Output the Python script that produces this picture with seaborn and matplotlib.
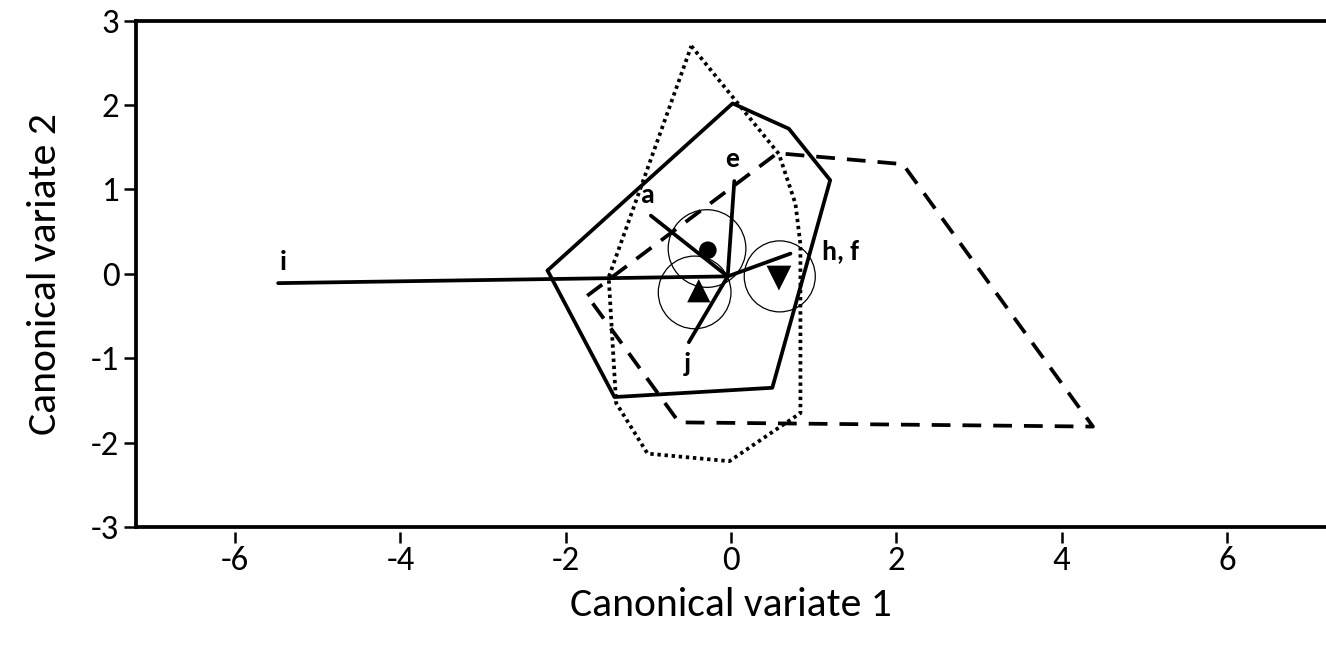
import numpy as np
import pandas as pd
import matplotlib
matplotlib.use("Agg")
import matplotlib.pyplot as plt
from matplotlib.patches import Ellipse
import seaborn as sns

# ---- data ----
solid_x = [-2.22, 0.02, 0.70, 1.20, 0.50, -1.41, -2.22]
solid_y = [0.04, 2.02, 1.72, 1.11, -1.35, -1.46, 0.04]

dotted_x = [-0.48, 0.58, 0.78, 0.84, 0.84, -0.02, -1.01, -1.39, -1.48, -0.48]
dotted_y = [2.70, 1.42, 0.83, 0.35, -1.65, -2.22, -2.13, -1.53, -0.04, 2.70]

dashed_x = [-1.74, 0.56, 2.08, 4.38, -0.63, -1.74]
dashed_y = [-0.26, 1.43, 1.30, -1.81, -1.76, -0.26]

origin = (-0.04, -0.03)
vec_names = ["i", "a", "e", "h, f", "j"]
vec_x = [-5.48, -0.97, 0.04, 0.72, -0.51]
vec_y = [-0.11, 0.69, 1.10, 0.24, -0.81]
lab_x = [-5.42, -1.00, 0.02, 1.33, -0.53]
lab_y = [0.14, 0.93, 1.36, 0.27, -1.07]

grp_x = [-0.28, -0.39, 0.58]
grp_y = [0.28, -0.20, -0.05]
grp_marker = ["o", "^", "v"]
grp_size = [160, 280, 320]
circ_x = [-0.29, -0.44, 0.59]
circ_y = [0.30, -0.22, -0.03]
circ_r = [0.47, 0.44, 0.43]

xticks = [-6, -4, -2, 0, 2, 4, 6]
yticks = [-3, -2, -1, 0, 1, 2, 3]

# ---- style ----
sns.set_theme(style="ticks")
plt.rcParams["font.family"] = ["Carlito", "Lato", "DejaVu Sans"]

fig = plt.figure(figsize=(13.26, 6.46), dpi=100)
ax = fig.add_axes([136 / 1326, 1 - 527 / 646, 1 - 136 / 1326, (527 - 20.7) / 646])

lw = 2.7
sns.lineplot(x=solid_x, y=solid_y, sort=False, estimator=None, color="black",
             linewidth=lw, ax=ax)
sns.lineplot(x=dotted_x, y=dotted_y, sort=False, estimator=None, color="black",
             linewidth=lw, ax=ax)
ax.lines[-1].set_linestyle((0, (0.9, 1.0)))
sns.lineplot(x=dashed_x, y=dashed_y, sort=False, estimator=None, color="black",
             linewidth=lw, ax=ax)
ax.lines[-1].set_linestyle((0, (5.0, 3.2)))

for vx, vy in zip(vec_x, vec_y):
    sns.lineplot(x=[origin[0], vx], y=[origin[1], vy], sort=False, estimator=None,
                 color="black", linewidth=lw, ax=ax)

for cx, cy, r in zip(circ_x, circ_y, circ_r):
    ax.add_patch(Ellipse((cx, cy), 2 * r, 2 * r * 82.6 / 84.4, fill=False,
                         edgecolor="black", linewidth=0.9))

for gx, gy, m, s in zip(grp_x, grp_y, grp_marker, grp_size):
    sns.scatterplot(x=[gx], y=[gy], marker=m, s=s, color="black", edgecolor="none",
                    ax=ax, zorder=5)

for name, tx, ty in zip(vec_names, lab_x, lab_y):
    ax.text(tx, ty, name, ha="center", va="center", fontsize=20, fontweight="bold",
            color="black")

ax.set_xlim(-7.2, 7.2)
ax.set_ylim(-3, 3)
ax.set_xticks(xticks)
ax.set_yticks(yticks)
ax.set_xticklabels([str(t) for t in xticks])
ax.set_yticklabels([str(t) for t in yticks])

for side in ["left", "top", "bottom"]:
    ax.spines[side].set_linewidth(2.7)
    ax.spines[side].set_color("black")
ax.spines["right"].set_visible(False)
ax.spines["bottom"].set_position(("outward", 3.5))
ax.spines["bottom"].set_visible(False)
ax.axhline(-3, color="black", linewidth=2.7, clip_on=False, zorder=6)

ax.tick_params(axis="x", length=8, width=1.8, pad=2, labelsize=25, colors="black")
ax.tick_params(axis="y", length=9, width=1.8, pad=3, labelsize=25, colors="black")

ax.set_xlabel("Canonical variate 1", fontsize=30, labelpad=8, color="black")
ax.set_ylabel("Canonical variate 2", fontsize=30, labelpad=20, color="black")

fig.savefig("out.png", dpi=100)
